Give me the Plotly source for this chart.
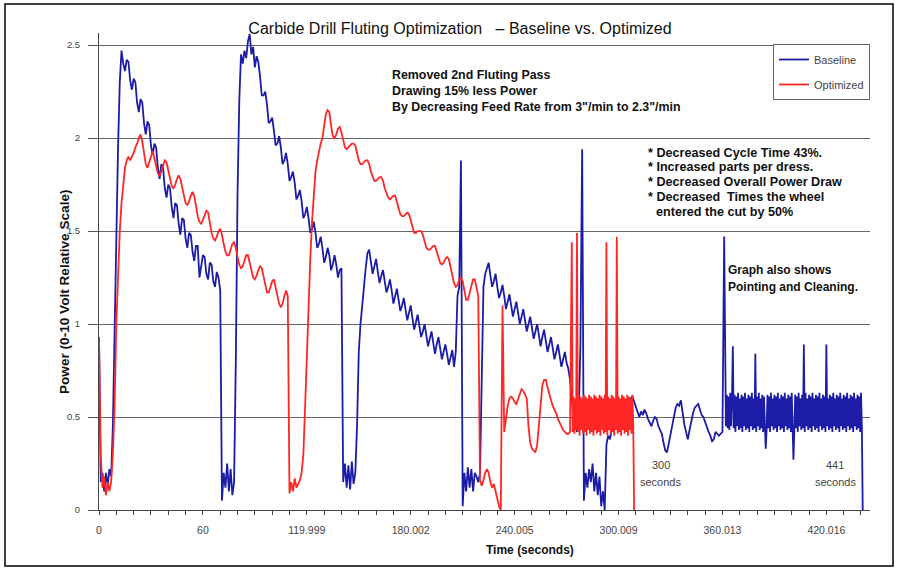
import plotly.graph_objects as go

# ---------------- data ----------------
# Power readings, one per second, except the dense "pointing / cleaning"
# stretches which were read at half-second resolution.
baseline_main = [  # t = 0 .. 361 s
    0.93, 0.15, 0.20, 0.10, 0.20, 0.13, 0.22, 0.18, 0.45, 0.95, 1.55, 1.95, 2.30,
    2.47, 2.40, 2.36, 2.42, 2.41, 2.31, 2.26, 2.32, 2.30, 2.19, 2.14, 2.21, 2.19, 2.08, 2.02, 2.09,
    2.07, 1.96, 1.91, 1.97, 1.95, 1.84, 1.78, 1.86, 1.84, 1.73, 1.68, 1.75, 1.73, 1.63, 1.57, 1.65,
    1.64, 1.54, 1.48, 1.57, 1.56, 1.46, 1.41, 1.49, 1.48, 1.39, 1.34, 1.42, 1.42, 1.25, 1.30, 1.37,
    1.36, 1.27, 1.24, 1.33, 1.32, 1.23, 1.20, 1.28, 1.25, 1.18,
    0.05, 0.20, 0.12, 0.25, 0.10, 0.22, 0.08, 0.15,
    0.80, 1.70, 2.20,
    2.45, 2.40, 2.47, 2.43, 2.52, 2.56, 2.45, 2.49, 2.38, 2.44,
    2.41, 2.33, 2.23, 2.23, 2.25, 2.18, 2.08, 2.09, 2.11, 2.04, 1.96, 1.97, 2.01, 1.95, 1.86, 1.88,
    1.92, 1.86, 1.77, 1.79, 1.82, 1.76, 1.67, 1.69, 1.72, 1.66, 1.57, 1.59, 1.63, 1.57, 1.49, 1.51,
    1.55, 1.49, 1.41, 1.43, 1.47, 1.41, 1.33, 1.36, 1.41, 1.37, 1.29, 1.32, 1.37, 1.32, 1.25, 1.29, 1.30,
    0.15, 0.25, 0.12, 0.24, 0.11, 0.26, 0.14, 0.20, 0.45, 0.85, 1.00, 1.12, 1.20, 1.30, 1.38,
    1.40, 1.34, 1.27, 1.31, 1.35, 1.28, 1.22, 1.26, 1.29, 1.23, 1.17, 1.20, 1.24, 1.18, 1.11, 1.15,
    1.19, 1.13, 1.07, 1.10, 1.14, 1.08, 1.02, 1.06, 1.10, 1.03, 0.97, 1.01, 1.05, 0.99, 0.93, 0.96,
    1.00, 0.94, 0.88, 0.92, 0.96, 0.90, 0.84, 0.89, 0.93, 0.87, 0.81, 0.85, 0.89, 0.84, 0.78, 0.82,
    0.86, 0.77,
    0.85, 1.15, 1.20, 1.88, 0.02,
    0.20, 0.10, 0.23, 0.12, 0.22, 0.10, 0.20, 0.18, 0.15, 0.20,
    0.70, 1.20, 1.27, 1.30,
    1.33, 1.26, 1.20, 1.23, 1.27, 1.20, 1.14, 1.17, 1.21, 1.15, 1.08, 1.12, 1.16, 1.10, 1.04, 1.08,
    1.12, 1.06, 1.00, 1.04, 1.08, 1.02, 0.96, 1.00, 1.04, 0.98, 0.92, 0.96, 1.00, 0.94, 0.88, 0.93,
    0.97, 0.91, 0.85, 0.89, 0.93, 0.87, 0.81, 0.85, 0.89, 0.83, 0.77, 0.81, 0.85, 0.79,
    0.76, 0.70, 0.60, 0.50, 0.45, 0.42, 0.50, 0.90, 1.94,
    0.05, 0.20, 0.12, 0.22, 0.15, 0.25, 0.10, 0.20, 0.08, 0.18, 0.02, 0.10, 0.00, 0.35, 0.40, 0.38,
    0.43, 0.45, 0.48, 0.50, 0.46, 0.52, 0.50, 0.55, 0.53, 0.57, 0.58, 0.60, 0.61,
    0.58, 0.55, 0.52, 0.50, 0.53, 0.51, 0.54, 0.52, 0.49, 0.47, 0.45, 0.48, 0.50, 0.49, 0.45, 0.43,
    0.41, 0.36, 0.32, 0.31, 0.36, 0.41, 0.45, 0.50, 0.55, 0.57, 0.56, 0.59, 0.52, 0.46, 0.42, 0.38,
    0.43, 0.48, 0.52, 0.55, 0.56, 0.57, 0.54, 0.51, 0.50, 0.47, 0.45, 0.42, 0.40, 0.37, 0.38, 0.42,
    0.41, 0.40, 0.41, 0.42, 1.47,
]
baseline_dense = [  # t = 362.0 .. 440.5 s, every 0.5 s
    0.45, 0.62, 0.44, 0.61, 0.43, 0.63, 0.45, 0.60, 0.88, 0.44, 0.62, 0.42, 0.61, 0.45, 0.63, 0.43,
    0.60, 0.44, 0.62, 0.42, 0.61, 0.45, 0.63, 0.43, 0.60, 0.44, 0.62, 0.42, 0.61, 0.45, 0.63, 0.43,
    0.60, 0.44, 0.84, 0.42, 0.61, 0.45, 0.63, 0.43, 0.60, 0.44, 0.62, 0.42, 0.61, 0.45, 0.33, 0.43,
    0.62, 0.44, 0.61, 0.42, 0.63, 0.45, 0.60, 0.43, 0.62, 0.44, 0.61, 0.42, 0.63, 0.45, 0.60, 0.43,
    0.62, 0.44, 0.61, 0.42, 0.63, 0.45, 0.60, 0.43, 0.62, 0.44, 0.61, 0.42, 0.63, 0.45, 0.27, 0.43,
    0.62, 0.44, 0.61, 0.42, 0.63, 0.45, 0.60, 0.43, 0.62, 0.44, 0.89, 0.42, 0.63, 0.45, 0.60, 0.43,
    0.62, 0.44, 0.61, 0.42, 0.63, 0.45, 0.60, 0.43, 0.62, 0.44, 0.61, 0.42, 0.63, 0.45, 0.60, 0.43,
    0.62, 0.44, 0.61, 0.42, 0.89, 0.45, 0.60, 0.43, 0.62, 0.44, 0.61, 0.42, 0.63, 0.45, 0.60, 0.43,
    0.62, 0.44, 0.61, 0.42, 0.63, 0.45, 0.60, 0.43, 0.62, 0.44, 0.61, 0.42, 0.63, 0.45, 0.60, 0.43,
    0.62, 0.44, 0.61, 0.42, 0.63, 0.45, 0.60, 0.43, 0.62, 0.44, 0.61, 0.42, 0.63, 0.45,
]
baseline_end = [0.00]  # t = 441 s

optimized_main = [  # t = 0 .. 272 s
    0.93, 0.30, 0.12, 0.18, 0.08, 0.15, 0.10, 0.15, 0.30, 0.55, 1.00, 1.28, 1.50, 1.65, 1.77, 1.84,
    1.88, 1.90, 1.88, 1.90, 1.92, 1.95, 1.97, 2.00, 2.02,
    1.98, 1.92, 1.86, 1.84, 1.87, 1.91, 1.93, 1.89, 1.84, 1.81, 1.80, 1.82, 1.85, 1.88, 1.87, 1.82,
    1.77, 1.74, 1.73, 1.75, 1.78, 1.80, 1.78, 1.73, 1.68, 1.65, 1.64, 1.66, 1.69, 1.71, 1.69, 1.63,
    1.58, 1.55, 1.54, 1.56, 1.59, 1.61, 1.60, 1.54, 1.49, 1.46, 1.45, 1.47, 1.50, 1.51, 1.48, 1.43,
    1.39, 1.37, 1.37, 1.40, 1.43, 1.44, 1.41, 1.36, 1.32, 1.30, 1.31, 1.34, 1.37, 1.37, 1.33, 1.28,
    1.25, 1.24, 1.26, 1.29, 1.31, 1.30, 1.25, 1.20, 1.17, 1.17, 1.20, 1.23, 1.24, 1.20, 1.15, 1.11,
    1.09, 1.11, 1.15, 1.18, 1.15,
    0.09, 0.15, 0.10, 0.17, 0.12, 0.14, 0.16, 0.20, 0.30,
    0.55, 0.85, 1.10, 1.35, 1.55, 1.72, 1.82, 1.88, 1.93, 1.97, 2.00,
    2.08, 2.13, 2.15, 2.14, 2.07, 2.01, 2.00, 2.02, 2.05, 2.06, 2.03, 1.99, 1.95, 1.94, 1.95, 1.96,
    1.97, 1.97, 1.96, 1.92, 1.88, 1.86, 1.86, 1.87, 1.88, 1.88, 1.86, 1.82, 1.79, 1.77, 1.77, 1.78,
    1.79, 1.79, 1.77, 1.73, 1.70, 1.68, 1.67, 1.68, 1.69, 1.69, 1.66, 1.62, 1.59, 1.58, 1.58, 1.59,
    1.60, 1.59, 1.56, 1.52, 1.49, 1.49, 1.50, 1.50, 1.50, 1.48, 1.44, 1.41, 1.40, 1.40, 1.41, 1.42,
    1.42, 1.39, 1.35, 1.33, 1.32, 1.33, 1.35, 1.36, 1.35, 1.30, 1.25, 1.22, 1.20, 1.21, 1.24, 1.25,
    1.23, 1.18, 1.13, 1.13, 1.17, 1.21, 1.24, 1.24, 1.20, 1.15,
    0.16, 0.13, 0.16, 0.20, 0.22, 0.20, 0.15, 0.12, 0.14, 0.10, 0.06, 0.02, 0.00, 1.10,
    0.42, 0.50, 0.56, 0.60, 0.61, 0.60, 0.58, 0.57, 0.60, 0.63, 0.65, 0.64, 0.62, 0.60, 0.45, 0.36,
    0.33, 0.32, 0.31, 0.35, 0.45, 0.58, 0.67, 0.70, 0.70, 0.66, 0.62, 0.59, 0.56, 0.54, 0.52, 0.49,
    0.47, 0.45, 0.43, 0.42, 0.41, 0.41, 0.42,
]
optimized_dense = [  # t = 273.0 .. 308.5 s, every 0.5 s
    1.44, 0.42, 0.61, 0.41, 0.60, 0.43, 1.49, 0.42, 0.62, 0.40, 0.61, 0.43, 0.60, 0.41, 0.62, 0.42,
    0.61, 0.40, 0.60, 0.43, 0.62, 0.41, 0.61, 0.42, 0.60, 0.40, 0.62, 0.43, 0.61, 0.41, 0.60, 0.42,
    0.62, 0.40, 0.61, 0.43, 0.60, 0.41, 0.62, 0.42, 1.44, 0.40, 0.61, 0.43, 0.60, 0.41, 0.62, 0.42,
    0.61, 0.40, 0.60, 0.43, 1.47, 0.41, 0.61, 0.42, 0.60, 0.40, 0.62, 0.43, 0.61, 0.41, 0.60, 0.42,
    0.62, 0.40, 0.61, 0.43, 0.60, 0.41, 0.62, 0.45,
]
optimized_end = [0.00]  # t = 309 s

baseline_power = baseline_main + baseline_dense + baseline_end
baseline_time = (list(range(len(baseline_main)))
                 + [362 + 0.5 * i for i in range(len(baseline_dense))] + [441])
optimized_power = optimized_main + optimized_dense + optimized_end
optimized_time = (list(range(len(optimized_main)))
                  + [273 + 0.5 * i for i in range(len(optimized_dense))] + [309])

x_tick_values = [0, 60, 119.999, 180.002, 240.005, 300.009, 360.013, 420.016]
x_tick_labels = ["0", "60", "119.999", "180.002", "240.005", "300.009", "360.013", "420.016"]
y_tick_values = [0, 0.5, 1, 1.5, 2, 2.5]
y_tick_labels = ["0", "0.5", "1", "1.5", "2", "2.5"]

# ---------------- figure ----------------
FONT = "Liberation Sans, Arial, sans-serif"
W, H = 899, 571
ML, MR, MT, MB = 99, 29, 33, 61
PW, PH = W - ML - MR, H - MT - MB


def px(X):
    return (X - ML) / PW


def py(Y):
    return (H - MB - Y) / PH


fig = go.Figure()
fig.add_trace(go.Scatter(x=baseline_time, y=baseline_power, mode="lines", name="Baseline",
                         legendgroup="b", line=dict(color="#1c1ca6", width=1.8)))
fig.add_trace(go.Scatter(x=optimized_time, y=optimized_power, mode="lines", name="Optimized",
                         legendgroup="o", line=dict(color="#ff2626", width=1.8)))

ann = []


def text(t, X, Y, size=12, bold=True, anchor="left", color="#111"):
    ann.append(dict(text=("<b>%s</b>" % t) if bold else t, x=px(X), y=py(Y), xref="paper", yref="paper",
                    xanchor=anchor, yanchor="middle", showarrow=False,
                    font=dict(family=FONT, size=size, color=color)))


text("Removed 2nd Fluting Pass", 390, 75, size=12.4)
text("Drawing 15% less Power", 390, 91.5, size=12.4)
text("By Decreasing Feed Rate from 3\"/min to 2.3\"/min", 390, 107, size=12.4)
text("* Decreased Cycle Time 43%.", 646, 153, size=12.6)
text("* Increased parts per dress.", 646, 167, size=12.6)
text("* Decreased Overall Power Draw", 646, 182, size=12.6)
text("* Decreased  Times the wheel", 646, 197, size=12.6)
text("entered the cut by 50%", 654, 212, size=12.6)
text("Graph also shows", 726, 270)
text("Pointing and Cleaning.", 726, 287)
text("300", 661, 465, size=11, bold=False, anchor="center", color="#444")
text("seconds", 660, 482, size=11, bold=False, anchor="center", color="#444")
text("441", 835, 465, size=11, bold=False, anchor="center", color="#444")
text("seconds", 835, 482, size=11, bold=False, anchor="center", color="#444")
text("Time (seconds)", 484, 550, size=12)
ann.append(dict(text="<b>Power (0-10 Volt Relative Scale)</b>", x=px(64), y=py(292), xref="paper",
                yref="paper", xanchor="center", yanchor="middle", textangle=-90, showarrow=False,
                font=dict(family=FONT, size=13.6, color="#111")))

fig.update_layout(
    width=W, height=H,
    margin=dict(l=ML, r=MR, t=MT, b=MB),
    paper_bgcolor="white", plot_bgcolor="white",
    font=dict(family=FONT, color="#222"),
    title=dict(text="Carbide Drill Fluting Optimization   \u2013 Baseline vs. Optimized",
               x=460 / W, xanchor="center", y=1 - 28 / H, yanchor="middle",
               xref="container", yref="container",
               font=dict(family=FONT, size=16, color="#111")),
    xaxis=dict(range=[0, 445.2], tickvals=x_tick_values, ticktext=x_tick_labels,
               ticks="outside", ticklen=4, tickcolor="#444", showline=True, linecolor="#444",
               linewidth=1, showgrid=False, zeroline=False, ticklabelstandoff=6,
               tickfont=dict(family=FONT, size=10.5, color="#444"),
               minor=dict(tick0=0, dtick=10, ticks="outside", ticklen=4, tickcolor="#444",
                          showgrid=False)),
    yaxis=dict(range=[0, 2.565], tickvals=y_tick_values, ticktext=y_tick_labels,
               ticks="outside", ticklen=10, tickcolor="#555", showline=True, linecolor="#444",
               linewidth=1, showgrid=True, gridcolor="#666", gridwidth=1, zeroline=False,
               ticklabelstandoff=6, tickfont=dict(family=FONT, size=9.5, color="#444")),
    legend=dict(x=1, xanchor="right", y=py(44), yanchor="top", bgcolor="white",
                bordercolor="#666", borderwidth=1, tracegroupgap=6, itemwidth=30,
                font=dict(family=FONT, size=11, color="#444")),
    annotations=ann,
    shapes=[dict(type="rect", xref="paper", yref="paper", x0=px(5), x1=px(893), y0=py(566), y1=py(4),
                 line=dict(color="#000", width=1.5), fillcolor="rgba(0,0,0,0)", layer="above")],
    showlegend=True,
)

fig.write_html("out.html", config={"displayModeBar": False},
               post_script="document.body.style.margin='0';")
